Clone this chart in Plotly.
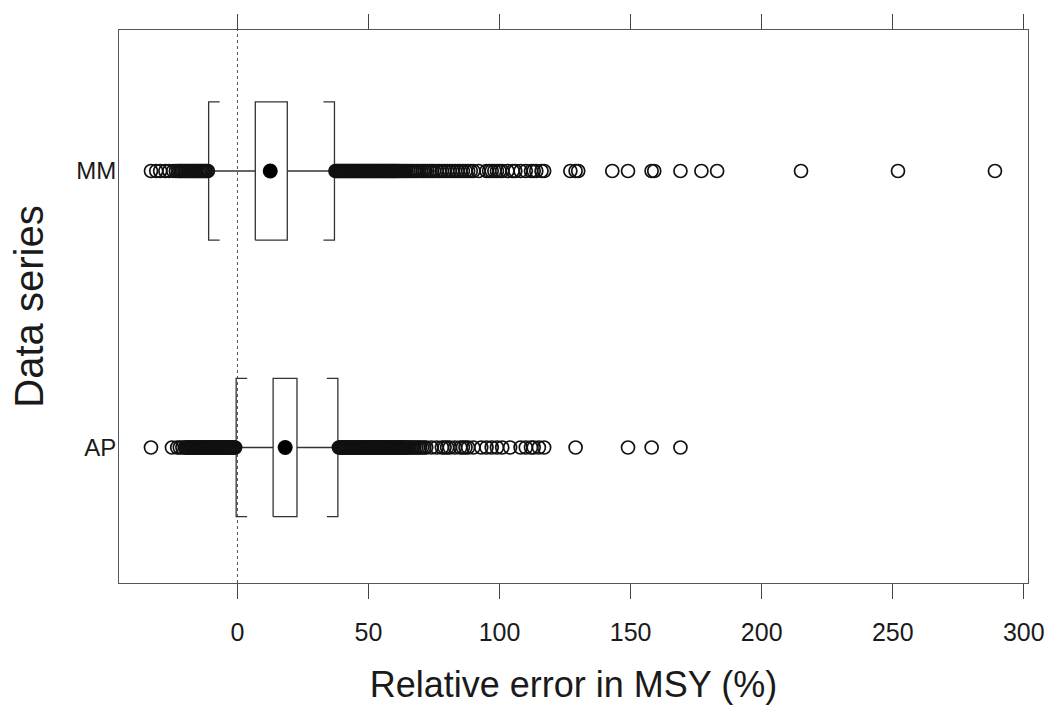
import plotly.graph_objects as go

# Summary statistics of relative error in MSY (%) for each data series
series = ["AP", "MM"]
lower_whisker = [-0.5, -11.0]
q1 = [13.6, 6.8]
median = [18.2, 12.5]
q3 = [22.7, 19.0]
upper_whisker = [38.3, 37.0]

# Outlying runs beyond the whiskers
ap_outliers = [
    -33.0, -25.0, -23.0, -22.0, -21.0,
    -20.0, -19.6, -19.2, -18.8, -18.4, -18.0, -17.6, -17.2, -16.8, -16.4,
    -16.0, -15.6, -15.2, -14.8, -14.4, -14.0, -13.6, -13.2, -12.8, -12.4,
    -12.0, -11.6, -11.2, -10.8, -10.4, -10.0, -9.6, -9.2, -8.8, -8.4,
    -8.0, -7.6, -7.2, -6.8, -6.4, -6.0, -5.6, -5.2, -4.8, -4.4,
    -4.0, -3.6, -3.2, -2.8, -2.4, -2.0, -1.6, -1.2, -0.9,
    38.7, 39.1, 39.5, 39.9, 40.3, 40.7, 41.1, 41.5, 41.9, 42.3, 42.7,
    43.1, 43.5, 43.9, 44.3, 44.7, 45.1, 45.5, 45.9, 46.3, 46.7, 47.1,
    47.5, 47.9, 48.3, 48.7, 49.1, 49.5, 49.9, 50.3, 50.7, 51.1, 51.5,
    51.9, 52.3, 52.7, 53.1, 53.5, 53.9, 54.3, 54.7, 55.1, 55.5, 55.9,
    56.3, 56.7, 57.1, 57.5, 57.9, 58.3, 58.7, 59.1, 59.5, 59.9, 60.3,
    60.7, 61.1, 61.5, 61.9, 62.3, 62.7, 63.1, 63.5, 64.0, 64.5, 65.0,
    65.6, 66.2, 66.8, 67.5, 68.2, 68.9, 69.6, 70.4, 71.2, 72.0,
    74.0, 76.0, 78.0, 79.0, 80.0, 81.0, 83.0, 85.0, 86.0, 87.0, 88.0,
    90.0, 93.0, 95.0, 97.0, 99.0, 101.0, 104.0, 108.0, 110.0, 112.0,
    113.0, 115.0, 117.0, 129.0, 149.0, 158.0, 169.0,
]
mm_outliers = [
    -33.0, -31.0, -29.5, -27.5, -26.0, -24.5, -23.5,
    -22.7, -22.2, -21.7, -21.2, -20.7, -20.2, -19.7, -19.2, -18.7, -18.2,
    -17.7, -17.2, -16.7, -16.2, -15.7, -15.2, -14.7, -14.2, -13.7, -13.2,
    -12.7, -12.2, -11.7, -11.3,
    37.4, 37.8, 38.2, 38.6, 39.0, 39.4, 39.8, 40.2, 40.6, 41.0, 41.4,
    41.8, 42.2, 42.6, 43.0, 43.4, 43.8, 44.2, 44.6, 45.0, 45.4, 45.8,
    46.2, 46.6, 47.0, 47.4, 47.8, 48.2, 48.6, 49.0, 49.4, 49.8, 50.2,
    50.6, 51.0, 51.4, 51.8, 52.2, 52.6, 53.0, 53.4, 53.8, 54.2, 54.6,
    55.0, 55.4, 55.8, 56.2, 56.6, 57.0, 57.4, 57.8, 58.2, 58.6, 59.0,
    59.4, 59.8, 60.2, 60.6, 61.0, 61.5, 62.0,
    62.6, 63.2, 63.9, 64.5, 65.2, 66.0, 66.7, 67.5, 68.3, 69.1, 70.0,
    70.8, 71.6, 72.5, 73.4, 74.2, 75.0, 76.0, 77.0, 78.0, 79.0, 80.0,
    81.0, 82.0, 83.0, 84.0, 85.0, 86.0, 87.0, 88.0, 89.0,
    90.0, 92.0, 95.0, 96.0, 97.0, 98.0, 99.0, 100.0, 101.0, 103.0,
    105.0, 106.0, 108.0, 110.0, 112.0, 113.0, 114.0, 116.0, 117.0,
    127.0, 129.0, 130.0, 143.0, 149.0, 158.0, 159.0, 169.0, 177.0,
    183.0, 215.0, 252.0, 289.0,
]
outliers = [ap_outliers, mm_outliers]

x_ticks = [0, 50, 100, 150, 200, 250, 300]
reference_value = 0

# Styling
half_h = 0.25          # half height of boxes and whisker brackets (category units)
cap_len = 4.2          # length of bracket serifs (x units)
line_col = "#333333"
font_family = "Liberation Sans, Arial, Helvetica, sans-serif"

fig = go.Figure()

for i, name in enumerate(series):
    pos = i + 1
    lo, a, m, b, hi = lower_whisker[i], q1[i], median[i], q3[i], upper_whisker[i]

    xs, ys = [], []
    # whisker stems
    xs += [lo, a, None, b, hi, None]
    ys += [pos, pos, None, pos, pos, None]
    # box
    xs += [a, b, b, a, a, None]
    ys += [pos - half_h, pos - half_h, pos + half_h, pos + half_h, pos - half_h, None]
    # lower bracket "["
    xs += [lo + cap_len, lo, lo, lo + cap_len, None]
    ys += [pos + half_h, pos + half_h, pos - half_h, pos - half_h, None]
    # upper bracket "]"
    xs += [hi - cap_len, hi, hi, hi - cap_len, None]
    ys += [pos + half_h, pos + half_h, pos - half_h, pos - half_h, None]

    fig.add_trace(go.Scatter(
        x=xs, y=ys, mode="lines",
        line=dict(color=line_col, width=1.3),
        hoverinfo="skip", showlegend=False,
    ))

    fig.add_trace(go.Scatter(
        x=outliers[i], y=[pos] * len(outliers[i]), mode="markers",
        marker=dict(symbol="circle-open", size=13, color="#111111",
                    line=dict(width=1.7, color="#111111")),
        name=name, showlegend=False,
    ))

    fig.add_trace(go.Scatter(
        x=[m], y=[pos], mode="markers",
        marker=dict(symbol="circle", size=15, color="black"),
        showlegend=False,
    ))

# dotted reference line at zero error
fig.add_shape(
    type="line", x0=reference_value, x1=reference_value, xref="x",
    y0=0, y1=1, yref="paper",
    line=dict(color="#555555", width=1, dash="dot"),
    layer="below",
)

fig.update_layout(
    width=1057, height=713,
    margin=dict(l=119, r=24, t=30, b=130),
    paper_bgcolor="white", plot_bgcolor="white",
    font=dict(family=font_family, color="#1a1a1a"),
    xaxis=dict(
        range=[-45.2, 301.6],
        tickvals=x_ticks, ticktext=[str(v) for v in x_ticks],
        ticks="outside", ticklen=15, tickwidth=1, tickcolor="#444444",
        showline=True, linecolor="#555555", linewidth=1, mirror="ticks",
        showgrid=False, zeroline=False,
        tickfont=dict(size=25, color="#1a1a1a"),
        ticklabelstandoff=12,
        title=dict(text="Relative error in MSY (%)", font=dict(size=36), standoff=26),
    ),
    yaxis=dict(
        range=[0.51, 2.51],
        tickvals=[1, 2], ticktext=series,
        ticks="", showline=True, linecolor="#555555", linewidth=1, mirror=True,
        showgrid=False, zeroline=False,
        tickfont=dict(size=24, color="#1a1a1a"),
        ticklabelstandoff=-3,
        title=dict(text="Data series", font=dict(size=40), standoff=20),
    ),
)

fig.write_html("out.html")
